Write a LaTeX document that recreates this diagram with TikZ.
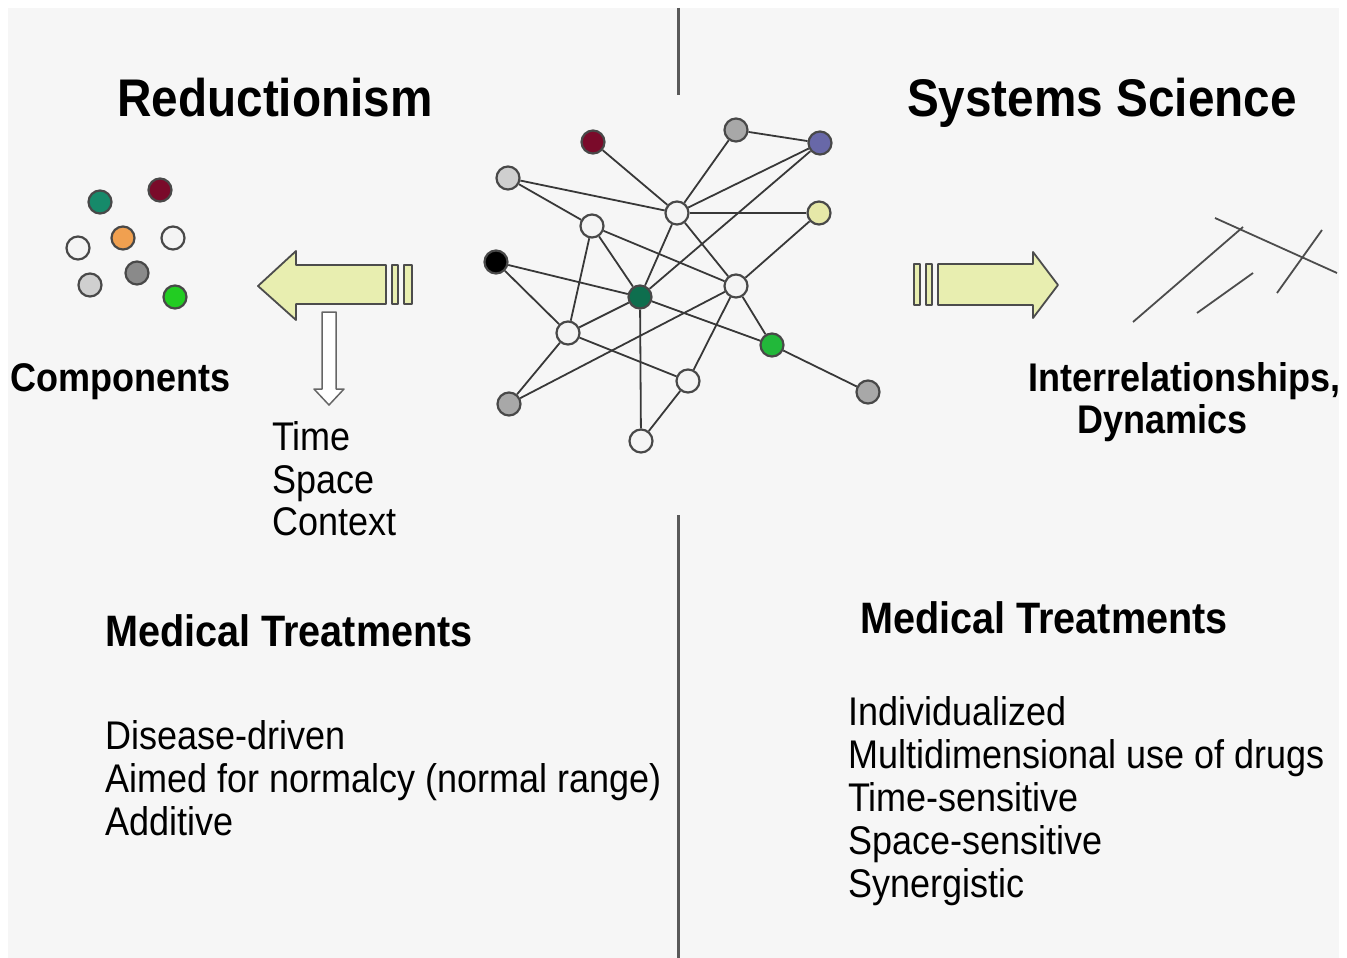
\documentclass[tikz,border=0pt]{standalone}
\usepackage{fontspec}
\setmainfont{Liberation Sans}
\usepackage{graphicx}
\newcommand{\sq}[1]{\scalebox{0.9}[1]{#1}}
\definecolor{bgray}{HTML}{F6F6F6}
\definecolor{ndraw}{HTML}{484848}
\definecolor{nwhite}{HTML}{F4F4F4}
\definecolor{ngray}{HTML}{A8A8A8}
\definecolor{ndgray}{HTML}{8A8A8A}
\definecolor{cred}{HTML}{7A0A2A}
\definecolor{cpurple}{HTML}{6868A8}
\definecolor{cyellow}{HTML}{E6E8A8}
\definecolor{cteal}{HTML}{0E6E4E}
\definecolor{cgreen}{HTML}{22B83A}
\definecolor{lteal}{HTML}{168A6A}
\definecolor{corange}{HTML}{F0A050}
\definecolor{lgreen}{HTML}{22CC22}
\definecolor{arrfill}{HTML}{E8EEB0}
\begin{document}
\begin{tikzpicture}[x=1pt,y=-1pt,
  title/.style={font=\fontsize{53}{60}\selectfont\bfseries, inner sep=0, anchor=base},
  lbl/.style={font=\fontsize{40}{46}\selectfont\bfseries, inner sep=0, anchor=base west},
  txt/.style={font=\fontsize{40}{46}\selectfont, inner sep=0, anchor=base west},
  mhead/.style={font=\fontsize{44}{50}\selectfont\bfseries, inner sep=0, anchor=base west},
  net/.style={circle, draw=ndraw, line width=2.2pt, minimum size=23pt, inner sep=0, fill=nwhite},
  edge/.style={draw=black!78, line width=1.8pt},
  divider/.style={draw=black!65, line width=3pt},
  blockarrow/.style={draw=black!70, line width=1.8pt, fill=arrfill, line join=round},
  sketch/.style={draw=black!70, line width=1.8pt}
]
\useasboundingbox (0,0) rectangle (1347,958);
\fill[white] (0,0) rectangle (1347,958);
\fill[bgray] (8,8) rectangle (1339,958);

% dividers
\draw[divider] (678,8) -- (678,95);
\draw[divider] (678,515) -- (678,958);

% titles
\node[title] (tred) at (275,116) {\sq{Reductionism}};
\node[title] (tsys) at (1102,116) {\sq{Systems Science}};

% left component cluster
\node[net, fill=lteal] (c1) at (100,202) {};
\node[net, fill=cred] (c2) at (160,190) {};
\node[net, fill=corange] (c3) at (123,238) {};
\node[net] (c4) at (173,238) {};
\node[net] (c5) at (78,248) {};
\node[net, fill=ndgray] (c6) at (137,273) {};
\node[net, fill=nwhite!85!black] (c7) at (90,285) {};
\node[net, fill=lgreen] (c8) at (175,297) {};

% network nodes
\node[net, fill=cred] (A) at (593,142) {};
\node[net, fill=ngray] (B) at (736,130) {};
\node[net, fill=cpurple] (C) at (820,143) {};
\node[net, fill=nwhite!85!black] (D) at (508,178) {};
\node[net] (E) at (592,226) {};
\node[net] (F) at (677,213) {};
\node[net, fill=cyellow] (G) at (819,213) {};
\node[net, fill=black] (H) at (496,262) {};
\node[net, fill=cteal] (I) at (640,297) {};
\node[net] (J) at (736,286) {};
\node[net, fill=cgreen] (K) at (772,345) {};
\node[net] (L) at (568,333) {};
\node[net, fill=ngray] (M) at (509,404) {};
\node[net] (N) at (688,381) {};
\node[net] (O) at (641,441) {};
\node[net, fill=ngray] (P) at (868,392) {};

\foreach \a/\b in {A/F,B/C,B/F,C/F,C/I,F/G,G/J,F/J,F/I,D/F,D/E,E/J,E/L,E/I,H/I,H/L,L/I,L/M,L/N,M/J,I/O,O/N,I/K,J/N,J/K,K/P}
  \draw[edge] (\a) -- (\b);

% left striped arrow
\draw[blockarrow] (258,286) -- (296,251) -- (296,265) -- (386,265) -- (386,304) -- (296,304) -- (296,320) -- cycle;
\draw[blockarrow] (392,265) rectangle (398,304);
\draw[blockarrow] (404,265) rectangle (412,304);

% down arrow
\draw[draw=black!60, line width=1.5pt, fill=white, line join=round]
  (322,312) -- (336,312) -- (336,389) -- (344,389) -- (329,405) -- (314,389) -- (322,389) -- cycle;

% right striped arrow
\draw[blockarrow] (914,264) rectangle (920,305);
\draw[blockarrow] (926,264) rectangle (932,305);
\draw[blockarrow] (938,264) -- (1033,264) -- (1033,252) -- (1058,285) -- (1033,318) -- (1033,305) -- (938,305) -- cycle;

% interrelationship sketch
\draw[sketch] (1133,322) -- (1243,227);
\draw[sketch] (1197,313) -- (1253,273);
\draw[sketch] (1277,293) -- (1322,230);
\draw[sketch] (1215,218) -- (1337,273);

% labels
\node[lbl] (comp) at (10,391) {\sq{Components}};
\node[txt] (ttime) at (272,450) {\sq{Time}};
\node[txt] (tspace) at (272,493) {\sq{Space}};
\node[txt] (tcont) at (272,535) {\sq{Context}};
\node[lbl] (inter) at (1028,391) {\sq{Interrelationships,}};
\node[lbl] (dyn) at (1077,433) {\sq{Dynamics}};

\node[mhead] (mtl) at (105,646) {\sq{Medical Treatments}};
\node[txt] (l1) at (105,749) {\sq{Disease-driven}};
\node[txt] (l2) at (105,792) {\sq{Aimed for normalcy (normal range)}};
\node[txt] (l3) at (105,835) {\sq{Additive}};

\node[mhead] (mtr) at (860,633) {\sq{Medical Treatments}};
\node[txt] (r1) at (848,725) {\sq{Individualized}};
\node[txt] (r2) at (848,768) {\sq{Multidimensional use of drugs}};
\node[txt] (r3) at (848,811) {\sq{Time-sensitive}};
\node[txt] (r4) at (848,854) {\sq{Space-sensitive}};
\node[txt] (r5) at (848,897) {\sq{Synergistic}};
\end{tikzpicture}
\end{document}
